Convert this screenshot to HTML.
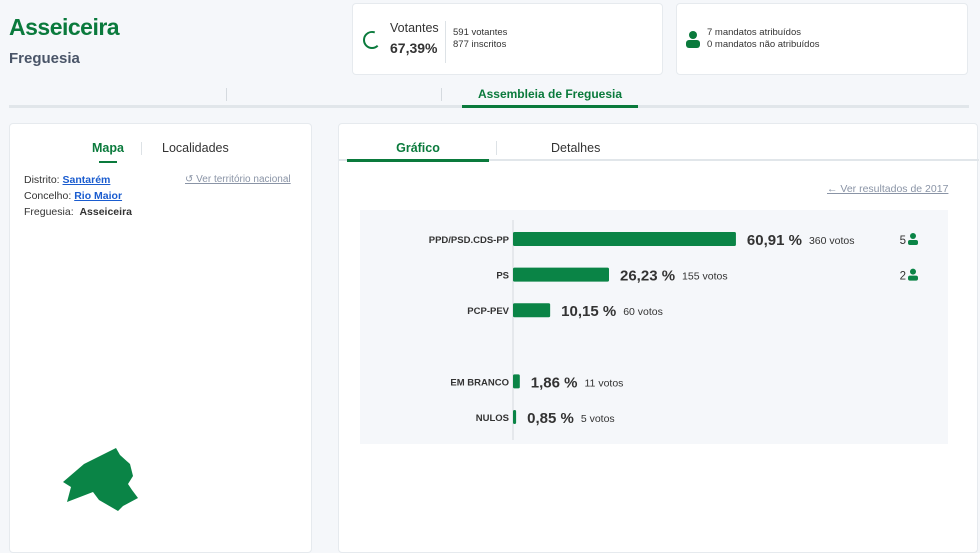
<!DOCTYPE html>
<html><head><meta charset="utf-8">
<style>
*{box-sizing:border-box;margin:0;padding:0}
body{width:980px;height:536px;overflow:hidden;background:#f5f7fa;font-family:"Liberation Sans",sans-serif;color:#333;position:relative}
.abs{position:absolute}
.card{position:absolute;background:#fff;border:1px solid #e6eaee;border-radius:4px}
a{color:#1a5ccf;font-weight:bold}
</style></head><body>
<div class="abs" style="left:9px;top:14px;font-size:23px;font-weight:bold;color:#0a7a3c;letter-spacing:-0.5px">Asseiceira</div>
<div class="abs" style="left:9px;top:50px;font-size:15px;color:#4a5568;font-weight:bold">Freguesia</div>

<div class="card" style="left:352px;top:3px;width:311px;height:72px">
  <svg class="abs" style="left:8px;top:25px" width="22" height="22"><circle cx="11" cy="11" r="8" fill="none" stroke="#0a7a3c" stroke-width="2" stroke-dasharray="34 60" transform="rotate(45 11 11)"/></svg>
  <div class="abs" style="left:37px;top:17px;font-size:12.5px;color:#333">Votantes</div>
  <div class="abs" style="left:37px;top:36px;font-size:14px;color:#333;font-weight:bold">67,39%</div>
  <div class="abs" style="left:92px;top:17px;width:1px;height:42px;background:#dde2e6"></div>
  <div class="abs" style="left:100px;top:23px;font-size:9.5px;line-height:12px;color:#333">591 votantes<br>877 inscritos</div>
</div>
<div class="card" style="left:676px;top:3px;width:292px;height:72px">
  <svg class="abs" style="left:8px;top:26px" width="16" height="18"><circle cx="8" cy="5" r="4" fill="#0a7a3c"/><rect x="1" y="10" width="14" height="8" rx="3" fill="#0a7a3c"/></svg>
  <div class="abs" style="left:30px;top:23px;font-size:9.5px;line-height:12px;color:#333">7 mandatos atribuídos<br>0 mandatos não atribuídos</div>
</div>

<div class="abs" style="left:9px;top:105px;width:960px;height:3px;background:#e1e6ea"></div>
<div class="abs" style="left:226px;top:88px;width:1px;height:13px;background:#d5dadf"></div>
<div class="abs" style="left:441px;top:88px;width:1px;height:13px;background:#d5dadf"></div>
<div class="abs" style="left:462px;top:87px;width:176px;text-align:center;font-size:12px;font-weight:bold;color:#0a7a3c">Assembleia de Freguesia</div>
<div class="abs" style="left:462px;top:105px;width:176px;height:3px;background:#0a7a3c"></div>

<div class="card" style="left:9px;top:123px;width:303px;height:430px">
  <div class="abs" style="left:82px;top:17px;font-size:12.5px;font-weight:bold;color:#0a7a3c">Mapa</div>
  <div class="abs" style="left:89px;top:37px;width:18px;height:2px;background:#0a7a3c"></div>
  <div class="abs" style="left:131px;top:18px;width:1px;height:13px;background:#dde2e6"></div>
  <div class="abs" style="left:152px;top:17px;font-size:12.5px;color:#333">Localidades</div>
  <div class="abs" style="left:14px;top:48px;font-size:10.5px;line-height:16px;color:#333">
    Distrito: <a style="text-decoration:underline">Santarém</a><br>
    Concelho: <a style="text-decoration:underline">Rio Maior</a><br>
    Freguesia: &nbsp;<b>Asseiceira</b>
  </div>
  <div class="abs" style="left:175px;top:50px;font-size:10px;color:#8a94a6;text-decoration:underline">↺ Ver território nacional</div>
  <svg class="abs" style="left:-9px;top:-123px" width="200" height="536"><polygon fill="#0a8446" points="62,481 83,463 115,447 119,454 129,463 132,475 127,483 131,489 137,497 122,505 117,510 98,499 92,491 66,501 70,486"/></svg>
</div>

<div class="card" style="left:338px;top:123px;width:640px;height:430px">
  <div class="abs" style="left:8px;top:17px;width:142px;text-align:center;font-size:12.5px;font-weight:bold;color:#0a7a3c">Gráfico</div>
  <div class="abs" style="left:157px;top:17px;width:1px;height:14px;background:#dde2e6"></div>
  <div class="abs" style="left:212px;top:17px;font-size:12.5px;color:#333">Detalhes</div>
  <div class="abs" style="left:0;top:35px;width:640px;height:2px;background:#e1e6ea"></div>
  <div class="abs" style="left:8px;top:35px;width:142px;height:3px;background:#0a7a3c"></div>
  <div class="abs" style="left:488px;top:59px;font-size:10.5px;color:#8a94a6;text-decoration:underline">← Ver resultados de 2017</div>
</div>

<svg class="abs" id="chart" style="left:0;top:0" width="980" height="536"></svg>
<script>
const parties=["PPD/PSD.CDS-PP","PS","PCP-PEV","","EM BRANCO","NULOS"];
const percents=[60.91,26.23,10.15,null,1.86,0.85];
const votes=[360,155,60,null,11,5];
const mandates=[5,2,null,null,null,null];
const NS="http://www.w3.org/2000/svg";
const svg=document.getElementById('chart');
const x0=513,pxPer=3.66,y0=239,rowH=35.6;
const xs=v=>x0+v*pxPer, ys=i=>y0+i*rowH;
function mk(t,a){const e=document.createElementNS(NS,t);for(const k in a)e.setAttribute(k,a[k]);svg.appendChild(e);return e;}
const bg=mk('rect',{x:360,y:210,width:588,height:234,fill:'#f5f7fa'});


const ax=mk('line',{x1:x0,y1:220,x2:x0,y2:440,stroke:'#d5dadf','stroke-width':1});


parties.forEach((p,i)=>{
  if(percents[i]==null)return;
  const y=ys(i);
  const lab=mk('text',{x:x0-4,y:y+4,'text-anchor':'end','font-size':'9.5','font-weight':'bold',fill:'#333'});
  lab.textContent=p;
  
  
  const w=Math.max(xs(percents[i])-x0,3);
  const b=mk('rect',{x:x0,y:y-7,width:w,height:14,rx:1.5,fill:'#0a8446'});
  
  
  const pt=mk('text',{x:x0+w+11,y:y+6,'font-size':'15','font-weight':'bold',fill:'#333'});
  pt.textContent=percents[i].toFixed(2).replace('.',',')+' %';
  
  
  const vt=mk('text',{x:x0+w+11+pt.getComputedTextLength()+7,y:y+5,'font-size':'10.5',fill:'#333'});
  vt.textContent=votes[i]+' votos';
  
  
  if(mandates[i]!=null){
    const mt=mk('text',{x:906,y:y+5,'text-anchor':'end','font-size':'11.5',fill:'#333'});
    mt.textContent=mandates[i];
    
    
    const c=mk('circle',{cx:913,cy:y-3,r:3,fill:'#0a8446'});
    
    
    const r=mk('rect',{x:908,y:y+1,width:10,height:5,rx:2,fill:'#0a8446'});
    
    
  }
});
</script>
</body></html>
